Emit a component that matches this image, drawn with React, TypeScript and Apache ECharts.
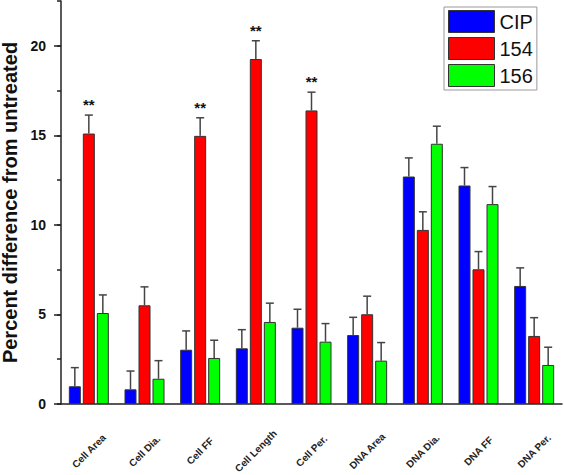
import React, { useEffect, useRef } from "react";
import * as echarts from "echarts";

const categories = ["Cell Area", "Cell Dia.", "Cell FF", "Cell Length", "Cell Per.", "DNA Area", "DNA Dia.", "DNA FF", "DNA Per."];
const seriesNames = ["CIP", "154", "156"];
const cipValues = [0.99, 0.82, 3.03, 3.11, 4.26, 3.85, 12.7, 12.2, 6.59];
const cipErrors = [1.04, 1.02, 1.05, 1.04, 1.03, 0.99, 1.04, 1.0, 1.01];
const s154Values = [15.1, 5.51, 14.97, 19.26, 16.39, 5.01, 9.72, 7.52, 3.8];
const s154Errors = [1.03, 1.03, 1.01, 1.02, 1.02, 1.01, 1.01, 0.99, 1.02];
const s156Values = [5.08, 1.41, 2.57, 4.58, 3.48, 2.42, 14.53, 11.16, 2.18];
const s156Errors = [1.01, 1.01, 0.99, 1.05, 1.01, 1.01, 0.98, 0.98, 0.99];
const s154Marks = ["**", "", "**", "**", "**", "", "", "", ""];
const yTickLabels = [0, 5, 10, 15, 20];

const colors = ["#0000FF", "#FF0000", "#00FF00"];
const BAR_W = 12;
const BAR_GAP = 2;
const FONT = "Arial, 'Liberation Sans', Helvetica, sans-serif";

export default function App() {
  const ref = useRef<HTMLDivElement>(null);
  useEffect(() => {
    document.body.style.margin = "0";
    const chart = echarts.init(ref.current!, null, { renderer: "svg" });
    const values = [cipValues, s154Values, s156Values];
    const errors = [cipErrors, s154Errors, s156Errors];
    const offsets = [-(BAR_W + BAR_GAP), 0, BAR_W + BAR_GAP];

    const barSeries = seriesNames.map((name, k) => ({
      name,
      type: "bar",
      yAxisIndex: 0,
      barWidth: BAR_W,
      barGap: `${(BAR_GAP / BAR_W) * 100}%`,
      itemStyle: { color: colors[k], borderColor: "#333", borderWidth: 1 },
      data: values[k],
      z: 2,
    }));

    const errSeries = seriesNames.map((name, k) => ({
      name: name + "-err",
      type: "custom",
      yAxisIndex: 0,
      z: 3,
      silent: true,
      encode: { x: 0, y: 1 },
      data: values[k].map((v, i) => [i, v, errors[k][i]]),
      renderItem: (params: any, api: any) => {
        const i = api.value(0);
        const v = api.value(1);
        const e = api.value(2);
        const mark = k === 1 ? s154Marks[i] : "";
        const base = api.coord([i, v]);
        const top = api.coord([i, v + e]);
        const x = base[0] + offsets[k];
        const style = { stroke: "#444", lineWidth: 1.5 };
        const children: any[] = [
          { type: "line", shape: { x1: x, y1: base[1], x2: x, y2: top[1] }, style },
          { type: "line", shape: { x1: x - 4, y1: top[1], x2: x + 4, y2: top[1] }, style },
        ];
        if (mark) {
          children.push({
            type: "text",
            style: {
              text: mark,
              x,
              y: top[1] - 3,
              align: "center",
              verticalAlign: "bottom",
              fill: "#111",
              font: `bold 15px ${FONT}`,
            },
          });
        }
        return { type: "group", children };
      },
    }));

    chart.setOption({
      animation: false,
      backgroundColor: "#fff",
      grid: { left: 61, right: 2, top: 1, bottom: 71, outerBoundsMode: "none" },
      legend: {
        data: seriesNames,
        orient: "vertical",
        left: 444,
        top: 7,
        itemWidth: 46,
        itemHeight: 22,
        itemGap: 4,
        padding: [3, 4, 3, 4],
        borderColor: "#999",
        borderWidth: 1,
        backgroundColor: "#fff",
        icon: "rect",
        itemStyle: { borderColor: "#333", borderWidth: 1 },
        textStyle: { fontSize: 20, fontFamily: FONT, color: "#111" },
      },
      xAxis: {
        type: "category",
        data: categories,
        axisLine: { lineStyle: { color: "#222", width: 1.5 } },
        axisTick: { alignWithLabel: true, length: 5, lineStyle: { color: "#222", width: 1.5 } },
        axisLabel: { show: false },
      },
      yAxis: [
        {
          type: "value",
          position: "left",
          min: 0,
          max: 22.5,
          interval: 2.5,
          axisLine: { show: true, lineStyle: { color: "#222", width: 1.5 } },
          axisTick: { show: true, length: 4, lineStyle: { color: "#222", width: 1.5 } },
          axisLabel: { show: false },
          splitLine: { show: false },
        },
        {
          type: "value",
          position: "left",
          min: 0,
          max: 22.5,
          interval: 5,
          axisLine: { show: false },
          axisTick: { show: true, length: 7, lineStyle: { color: "#222", width: 1.5 } },
          axisLabel: {
            margin: 15,
            fontSize: 14,
            fontWeight: "bold",
            fontFamily: FONT,
            color: "#111",
            showMaxLabel: false,
            formatter: (v: number) => (yTickLabels.includes(v) ? String(v) : ""),
          },
          splitLine: { show: false },
          name: "Percent difference from untreated",
          nameLocation: "middle",
          nameGap: 36,
          nameTextStyle: { fontSize: 20, fontWeight: "bold", fontFamily: FONT, color: "#111" },
        },
      ],
      series: [...barSeries, ...errSeries],
    });

    // Category labels rotated 45°, centred under each tick, positioned from the axis scale
    const y0 = chart.convertToPixel({ yAxisIndex: 0 }, 0) as number;
    chart.setOption({
      graphic: categories.map((c) => ({
        type: "text",
        x: chart.convertToPixel({ xAxisIndex: 0 }, c) as number,
        y: y0 + 47,
        rotation: Math.PI / 4,
        silent: true,
        style: {
          text: c,
          align: "center",
          verticalAlign: "middle",
          fill: "#222",
          font: `bold 10px ${FONT}`,
        },
      })),
    });
    return () => chart.dispose();
  }, []);
  return <div ref={ref} style={{ width: 564, height: 475 }} />;
}
